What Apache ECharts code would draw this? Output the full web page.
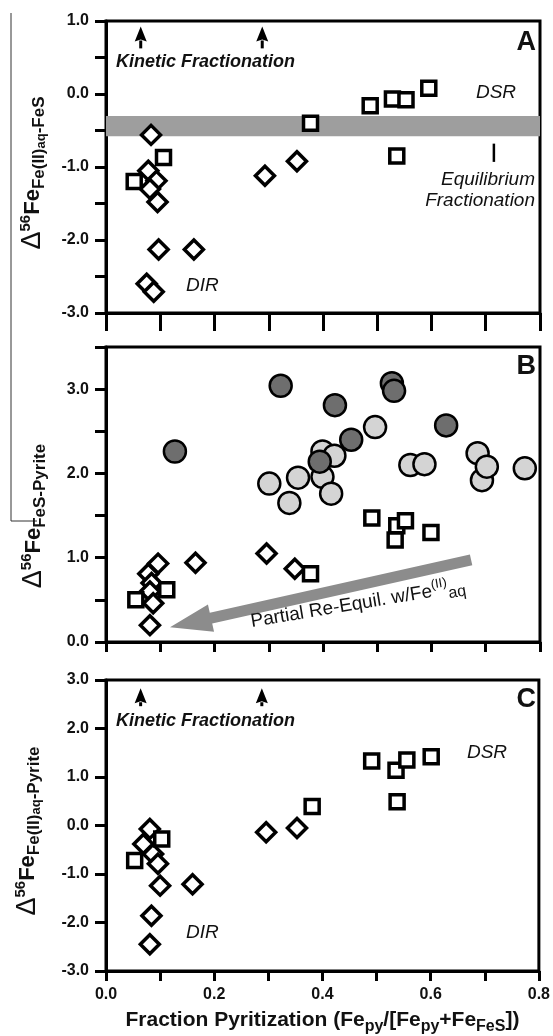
<!DOCTYPE html>
<html>
<head>
<meta charset="utf-8">
<script src="https://cdn.jsdelivr.net/npm/echarts@6/dist/echarts.min.js"></script>
<style>
html, body { margin: 0; padding: 0; background: #fff; }
#chart { width: 553px; height: 1036px; }
</style>
</head>
<body>
<div id="chart"></div>
<script>
const FONT = '"Liberation Sans", Arial, Helvetica, sans-serif';

// shared x axis: fraction pyritization
const xRange = [0, 0.8];
const xStep = 0.1;

// panel A : Δ56Fe Fe(II)aq-FeS
const aRange = [-3, 1];
const aDirX = [0.083, 0.078, 0.093, 0.081, 0.095, 0.097, 0.162, 0.075, 0.088, 0.293, 0.352];
const aDirY = [-0.56, -1.05, -1.19, -1.30, -1.48, -2.13, -2.13, -2.60, -2.71, -1.12, -0.92];
const aDsrX = [0.052, 0.106, 0.377, 0.487, 0.528, 0.553, 0.595, 0.536];
const aDsrY = [-1.20, -0.87, -0.40, -0.16, -0.07, -0.08, 0.08, -0.85];
const aBand = [-0.30, -0.58];          // equilibrium fractionation band
const aEquilTick = [0.715, -0.68, -0.93];

// panel B : Δ56Fe FeS-Pyrite
const bRange = [0, 3.5];
const bDirX = [0.096, 0.078, 0.084, 0.081, 0.087, 0.081, 0.165, 0.296, 0.348];
const bDirY = [0.93, 0.81, 0.70, 0.60, 0.46, 0.20, 0.94, 1.05, 0.87];
const bDsrX = [0.055, 0.112, 0.377, 0.490, 0.536, 0.533, 0.552, 0.599];
const bDsrY = [0.50, 0.62, 0.81, 1.47, 1.38, 1.21, 1.44, 1.30];
const bLightX = [0.301, 0.338, 0.354, 0.399, 0.399, 0.421, 0.415, 0.496, 0.561, 0.587, 0.685, 0.693, 0.702, 0.772];
const bLightY = [1.88, 1.65, 1.95, 2.26, 1.96, 2.21, 1.76, 2.55, 2.10, 2.11, 2.24, 1.92, 2.08, 2.06];
const bDarkX = [0.127, 0.322, 0.422, 0.527, 0.531, 0.452, 0.394, 0.627];
const bDarkY = [2.26, 3.04, 2.81, 3.07, 2.98, 2.40, 2.14, 2.57];
const bArrow = [[0.673, 0.973], [0.118, 0.174]];   // tail -> tip

// panel C : Δ56Fe Fe(II)aq-Pyrite
const cRange = [-3, 3];
const cDirX = [0.081, 0.069, 0.087, 0.096, 0.100, 0.160, 0.084, 0.081, 0.296, 0.353];
const cDirY = [-0.07, -0.38, -0.59, -0.79, -1.24, -1.21, -1.86, -2.45, -0.14, -0.05];
const cDsrX = [0.053, 0.103, 0.381, 0.491, 0.536, 0.556, 0.601, 0.538];
const cDsrY = [-0.72, -0.28, 0.39, 1.33, 1.14, 1.35, 1.42, 0.49];

// kinetic fractionation arrows (x, tip y, base y)
const kineticX = [0.064, 0.288];
const aKinetic = [0.925, 0.625];
const cKinetic = [2.83, 2.46];

const zip = (xs, ys) => xs.map((x, i) => [x, ys[i]]);

const grids = [
  { left: 106, top: 21, width: 434, height: 292 },
  { left: 106, top: 347, width: 434, height: 295 },
  { left: 106, top: 680, width: 434, height: 293 }
].map(g => Object.assign(g, { show: true, borderColor: '#000', borderWidth: 3 }));

function xAxis(i, tickLen, showLabel) {
  return {
    type: 'value', gridIndex: i, min: xRange[0], max: xRange[1], interval: xStep,
    axisLine: { show: true, onZero: false, lineStyle: { color: '#000', width: 3 } },
    axisTick: { show: true, length: tickLen, lineStyle: { color: '#000', width: 3 } },
    axisLabel: {
      show: showLabel, margin: 16, color: '#111', fontFamily: FONT, fontWeight: 'bold', fontSize: 16,
      showMinLabel: true, showMaxLabel: true,
      formatter: v => (Math.round(v * 10) % 2 === 0 ? v.toFixed(1) : '')
    },
    splitLine: { show: false }
  };
}

function yAxis(i, range, interval) {
  return {
    type: 'value', gridIndex: i, min: range[0], max: range[1], interval: interval,
    axisLine: { show: true, onZero: false, lineStyle: { color: '#000', width: 3 } },
    axisTick: { show: true, length: 11, lineStyle: { color: '#000', width: 3 } },
    axisLabel: {
      margin: 17, color: '#111', fontFamily: FONT, fontWeight: 'bold', fontSize: 16,
      showMinLabel: true, showMaxLabel: true,
      formatter: v => (Number.isInteger(v) ? v.toFixed(1) : '')
    },
    splitLine: { show: false }
  };
}

function scatter(gi, symbol, xs, ys, fill, size, bw) {
  return {
    type: 'scatter', xAxisIndex: gi, yAxisIndex: gi, symbol: symbol, symbolSize: size,
    data: zip(xs, ys), silent: true,
    itemStyle: { color: fill, borderColor: '#000', borderWidth: bw, opacity: 1 }
  };
}

const xAx = xAxis(2, 10, true);
xAx.name = '{m|Fraction Pyritization (Fe}{b|py}{m|/[Fe}{b|py}{m|+Fe}{b|FeS}{m|])}';
xAx.nameLocation = 'middle';
xAx.nameGap = 34;
xAx.nameTextStyle = {
  rich: {
    m: { fontFamily: FONT, fontWeight: 'bold', fontSize: 21, lineHeight: 30, color: '#111' },
    b: { fontFamily: FONT, fontWeight: 'bold', fontSize: 16, lineHeight: 18, verticalAlign: 'bottom', color: '#111' }
  }
};

const diamondA = scatter(0, 'diamond', aDirX, aDirY, '#fff', 19, 3.5);
diamondA.markArea = {
  silent: true, label: { show: false },
  itemStyle: { color: '#9e9e9e' },
  data: [[{ yAxis: aBand[0] }, { yAxis: aBand[1] }]]
};

const option = {
  animation: false,
  backgroundColor: '#fff',
  grid: grids,
  xAxis: [xAxis(0, 18, false), xAxis(1, 10, false), xAx],
  yAxis: [yAxis(0, aRange, 0.5), yAxis(1, bRange, 0.5), yAxis(2, cRange, 1)],
  series: [
    diamondA,
    scatter(0, 'rect', aDsrX, aDsrY, '#fff', 14, 3.5),
    scatter(1, 'circle', bLightX, bLightY, '#d4d4d4', 22, 2.5),
    scatter(1, 'circle', bDarkX, bDarkY, '#6e6e6e', 22, 2.5),
    scatter(1, 'diamond', bDirX, bDirY, '#fff', 19, 3.5),
    scatter(1, 'rect', bDsrX, bDsrY, '#fff', 14, 3.5),
    scatter(2, 'diamond', cDirX, cDirY, '#fff', 19, 3.5),
    scatter(2, 'rect', cDsrX, cDsrY, '#fff', 14, 3.5)
  ]
};

const chart = echarts.init(document.getElementById('chart'), null, { renderer: 'canvas' });
chart.setOption(option);

// ---- annotations
const px = (gi, p) => chart.convertToPixel({ gridIndex: gi }, p);

function text(str, x, y, font, align, extra) {
  return Object.assign({
    type: 'text', x: x, y: y, z: 10,
    style: { text: str, font: font, fill: '#111', align: align, textAlign: align, verticalAlign: 'middle', textVerticalAlign: 'middle' }
  }, extra || {});
}

function kineticArrow(gi, x, yTip, yBase) {
  const tip = px(gi, [x, yTip]);
  const base = px(gi, [x, yBase]);
  const headLen = 15, halfW = 6;
  return [
    { type: 'line', z: 10, shape: { x1: tip[0], y1: tip[1] + headLen - 1, x2: base[0], y2: base[1] }, style: { stroke: '#000', lineWidth: 3 } },
    { type: 'polygon', z: 10, shape: { points: [[tip[0], tip[1]], [tip[0] + halfW, tip[1] + headLen], [tip[0], tip[1] + headLen - 2], [tip[0] - halfW, tip[1] + headLen]] }, style: { fill: '#000' } }
  ];
}

function bigArrow(gi, from, to) {
  const p0 = px(gi, from), p1 = px(gi, to);
  const dx = p1[0] - p0[0], dy = p1[1] - p0[1];
  const L = Math.hypot(dx, dy);
  const ux = dx / L, uy = dy / L, nx = -uy, ny = ux;
  const headLen = 42, headHalf = 14, shaftHalf = 5.5;
  const bx = p1[0] - ux * headLen, by = p1[1] - uy * headLen;
  const pts = [
    [p0[0] + nx * shaftHalf, p0[1] + ny * shaftHalf],
    [bx + nx * shaftHalf, by + ny * shaftHalf],
    [bx + nx * headHalf, by + ny * headHalf],
    [p1[0], p1[1]],
    [bx - nx * headHalf, by - ny * headHalf],
    [bx - nx * shaftHalf, by - ny * shaftHalf],
    [p0[0] - nx * shaftHalf, p0[1] - ny * shaftHalf]
  ];
  return { type: 'polygon', z: 4, shape: { points: pts }, style: { fill: '#8c8c8c' } };
}

function yTitle(x, y, parts) {
  return {
    type: 'text', x: x, y: y, rotation: Math.PI / 2, z: 10,
    style: {
      text: parts, fill: '#111', align: 'center', textAlign: 'center', verticalAlign: 'middle', textVerticalAlign: 'middle',
      rich: {
        d: { fontFamily: FONT, fontSize: 27, fontWeight: 'normal', lineHeight: 30 },
        s: { fontFamily: FONT, fontSize: 15, fontWeight: 'bold', lineHeight: 15, verticalAlign: 'top' },
        m: { fontFamily: FONT, fontSize: 22, fontWeight: 'bold', lineHeight: 30 },
        b: { fontFamily: FONT, fontSize: 17, fontWeight: 'bold', lineHeight: 18, verticalAlign: 'bottom' },
        bb: { fontFamily: FONT, fontSize: 13, fontWeight: 'bold', lineHeight: 13, verticalAlign: 'bottom' }
      }
    }
  };
}

const eqTop = px(0, [aEquilTick[0], aEquilTick[1]]);
const eqBot = px(0, [aEquilTick[0], aEquilTick[2]]);

const KIN = 'italic bold 18px ' + FONT;
const LAB = 'italic 19px ' + FONT;
const LET = 'bold 27px ' + FONT;

let graphic = [
  // scan edge marks
  { type: 'line', shape: { x1: 11, y1: 13, x2: 11, y2: 521 }, style: { stroke: '#333', lineWidth: 1 } },
  { type: 'line', shape: { x1: 11, y1: 521, x2: 37, y2: 521 }, style: { stroke: '#333', lineWidth: 1 } },

  yTitle(33, 173, '{d|Δ}{s|56}{m|Fe}{b|Fe(II)}{bb|aq}{b|-FeS}'),
  yTitle(34, 516, '{d|Δ}{s|56}{m|Fe}{b|FeS-Pyrite}'),
  yTitle(28, 831, '{d|Δ}{s|56}{m|Fe}{b|Fe(II)}{bb|aq}{b|-Pyrite}'),

  text('A', 536, 43, LET, 'right'),
  text('B', 536, 367, LET, 'right'),
  text('C', 536, 700, LET, 'right'),

  text('Kinetic Fractionation', 116, 62, KIN, 'left'),
  text('DSR', 496, 93, LAB, 'center'),
  text('Equilibrium', 535, 180, LAB, 'right'),
  text('Fractionation', 535, 201, LAB, 'right'),
  text('DIR', 186, 286, LAB, 'left'),
  { type: 'line', z: 10, shape: { x1: eqTop[0], y1: eqTop[1], x2: eqBot[0], y2: eqBot[1] }, style: { stroke: '#000', lineWidth: 2.5 } },

  bigArrow(1, bArrow[0], bArrow[1]),
  {
    type: 'text', x: 358, y: 604, rotation: 9.5 * Math.PI / 180, z: 10,
    style: {
      text: '{n|Partial Re-Equil. w/Fe}{p|(II)}{q|aq}', fill: '#111',
      align: 'center', textAlign: 'center', verticalAlign: 'middle', textVerticalAlign: 'middle',
      rich: {
        n: { fontFamily: FONT, fontSize: 19, lineHeight: 26 },
        p: { fontFamily: FONT, fontSize: 13, lineHeight: 14, verticalAlign: 'top' },
        q: { fontFamily: FONT, fontSize: 16, lineHeight: 20, verticalAlign: 'bottom' }
      }
    }
  },

  text('Kinetic Fractionation', 116, 721, KIN, 'left'),
  text('DSR', 487, 753, LAB, 'center'),
  text('DIR', 186, 933, LAB, 'left')
];

kineticX.forEach(x => {
  graphic = graphic.concat(kineticArrow(0, x, aKinetic[0], aKinetic[1]));
  graphic = graphic.concat(kineticArrow(2, x, cKinetic[0], cKinetic[1]));
});

chart.setOption({ graphic: graphic });
</script>
</body>
</html>
